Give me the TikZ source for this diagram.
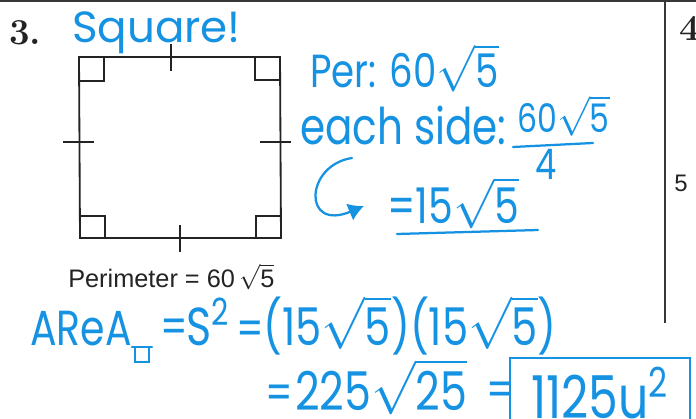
\documentclass[tikz,border=0pt]{standalone}
\usepackage{fontspec}
\usepackage{unicode-math}
\setmathfont{Latin Modern Math}
\newfontfamily\handfont[FakeStretch=0.8]{Poppins}
\newfontfamily\handwide{Poppins}
\newfontfamily\printfont{Liberation Sans}
\usetikzlibrary{arrows.meta}
\definecolor{Ink}{RGB}{22,146,226}
\definecolor{PrintBlack}{RGB}{35,35,35}
\definecolor{RuleGray}{RGB}{55,55,55}
\newcommand{\hsqrt}[1]{$\sqrt{\hbox{#1}}$}
\tikzset{
  >=Latex,
  hand/.style={font=\handfont\fontsize{#1}{#1}\selectfont,text=Ink,inner sep=0pt,anchor=base west},
  printed/.style={font=\printfont\fontsize{#1}{#1}\selectfont,text=PrintBlack,inner sep=0pt,anchor=base west},
  itemnum/.style={font=\bfseries\fontsize{26}{26}\selectfont,text=PrintBlack,inner sep=0pt,anchor=base west},
  inkline/.style={draw=Ink,line width=1.6pt,line cap=round},
  figline/.style={draw=PrintBlack,line width=1.3pt},
  tickline/.style={draw=PrintBlack,line width=1.7pt},
  rulerline/.style={draw=RuleGray,line width=1.6pt},
  answerbox/.style={draw=Ink,line width=1.8pt,inner sep=0pt,minimum width=4.5cm,minimum height=1.75cm},
  curl/.style={inkline,-{Latex[length=11pt,width=13pt]}}
}
\begin{document}
\begin{tikzpicture}[x=0.025cm,y=-0.025cm]
  \clip (0,0) rectangle (696,419);
  \fill[white] (0,0) rectangle (696,419);
  % page rules
  \draw[rulerline,line width=1.2pt] (0,1)--(696,1);
  \draw[rulerline] (665,0)--(665,323);
  \node[itemnum] (q3) at (9,45) {3.};
  \node[itemnum] (q4) at (679,41) {4};
  \node[printed=17] (q5) at (674,192) {5};
  % the square
  \coordinate (tl) at (79,57);
  \coordinate (tr) at (280,57);
  \coordinate (br) at (281,238);
  \coordinate (bl) at (80,238);
  \draw[figline] (tl)--(tr)--(br)--(bl)--cycle;
  \draw[figline] (79,81)--(104,81)--(104,57);
  \draw[figline] (255,57)--(255,80)--(280,80);
  \draw[figline] (80,216)--(105,216)--(105,238);
  \draw[figline] (256,238)--(256,216)--(281,216);
  \draw[tickline] (171,44)--(171,71);
  \draw[tickline] (180,225)--(180,252);
  \draw[tickline] (63,142)--(94,142);
  \draw[tickline] (260,142)--(291,142);
  \node[printed=18] (per) at (68,287) {Perimeter = 60\,\hsqrt{5}};
  % handwriting
  \node[hand=31,font=\handwide\fontsize{31}{31}\selectfont] (sq) at (72,43) {Square!};
  \node[hand=33] (perval) at (310,88) {Per: 60\hsqrt{5}};
  \node[hand=36] (side) at (300,145) {each side:};
  \node[hand=28] (fracnum) at (517,133) {60\hsqrt{5}};
  \draw[inkline] (513,147)--(593,143);
  \node[hand=30] (fracden) at (535,180) {4};
  \coordinate (curltail) at (352,158);
  \coordinate (curlhead) at (364,206);
  \draw[curl] (curltail) .. controls (305,165) and (302,232) .. (curlhead);
  \node[hand=35] (sideval) at (387,224) {=15\hsqrt{5}};
  \draw[inkline] (397,234)--(538,230);
  \node[hand=35] (area) at (30,345) {AReA};
  \draw[inkline] (132,347)--(152,347);
  \draw[inkline] (135,347) rectangle (149,362);
  \node[hand=34] (eqa) at (160,343) {=};
  \node[hand=38] (ssq) at (186,345) {S\textsuperscript{2}};
  \node[hand=34] (eqb) at (236,345) {=};
  \node[hand=37] (prod) at (263,345) {(15\hsqrt{5})(15\hsqrt{5})};
  \node[hand=34] (eqc) at (265,409) {=};
  \node[hand=38] (rad) at (295,410) {225\hsqrt{25}};
  \node[hand=34] (eqd) at (486,406) {=};
  \node[answerbox,hand=42,anchor=center] (ans) at (600,393) {1125u\textsuperscript{2}};
\end{tikzpicture}
\end{document}
